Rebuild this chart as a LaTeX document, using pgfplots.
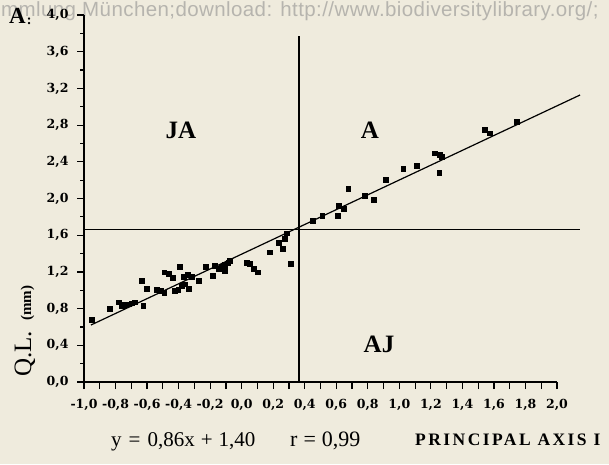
\documentclass[border=0pt]{standalone}
\usepackage{pgfplots}
\pgfplotsset{compat=1.18}
\usepackage{pgfplotstable}
\usepackage{fontspec}
\setmainfont{Liberation Serif}
\newfontfamily\tickfont{DejaVu Serif}
\newfontfamily\widefont[LetterSpace=14]{Liberation Serif}
\newfontfamily\wmfont[LetterSpace=2]{Liberation Sans}
\definecolor{bgcol}{RGB}{239,235,221}
\definecolor{wmcol}{RGB}{182,180,174}

\pgfplotstableread{
x y
-0.951 0.676
-0.835 0.803
-0.782 0.869
-0.761 0.828
-0.740 0.839
-0.719 0.847
-0.697 0.858
-0.677 0.869
-0.624 0.828
-0.634 1.104
-0.603 1.014
-0.539 1.010
-0.512 0.995
-0.491 0.973
-0.491 1.196
-0.465 1.177
-0.437 1.141
-0.391 1.257
-0.423 0.995
-0.402 1.010
-0.380 1.046
-0.359 1.065
-0.338 1.021
-0.370 1.148
-0.342 1.166
-0.317 1.148
-0.271 1.104
-0.228 1.257
-0.184 1.159
-0.169 1.264
-0.148 1.239
-0.127 1.257
-0.106 1.275
-0.085 1.300
-0.074 1.319
-0.106 1.213
0.032 1.300
0.053 1.286
0.074 1.239
0.102 1.196
0.180 1.414
0.237 1.518
0.258 1.450
0.275 1.566
0.286 1.621
0.311 1.286
0.450 1.758
0.511 1.813
0.607 1.809
0.613 1.918
0.645 1.893
0.676 2.104
0.782 2.027
0.839 1.991
0.915 2.202
1.025 2.329
1.110 2.354
1.226 2.493
1.258 2.474
1.269 2.456
1.253 2.281
1.543 2.747
1.575 2.711
1.744 2.837
}\pts

\begin{document}
\begin{tikzpicture}
\fill[bgcol] (0pt,0pt) rectangle (609pt,464pt);
\useasboundingbox (0pt,0pt) rectangle (609pt,464pt);
\node[anchor=base west, inner sep=0pt, text=wmcol, font=\wmfont\fontsize{20.5}{20.5}\selectfont] at (1pt,447pt) {mmlung München;download: http://www.biodiversitylibrary.org/;};
\begin{axis}[
  at={(84pt,82pt)}, anchor=south west,
  scale only axis, width=473pt, height=367pt,
  xmin=-1, xmax=2, ymin=0, ymax=4,
  clip=false,
  axis x line*=bottom, axis y line*=left,
  axis line style={line width=1.5pt, -},
  xtick={-1,-0.9,-0.8,-0.7,-0.6,-0.5,-0.4,-0.3,-0.2,-0.1,0,0.1,0.2,0.3,0.4,0.5,0.6,0.7,0.8,0.9,1,1.1,1.2,1.3,1.4,1.5,1.6,1.7,1.8,1.9,2},
  xticklabels={{-1,0},{},{-0,8},{},{-0,6},{},{-0,4},{},{-0,2},{},{0,0},{},{0,2},{},{0,4},{},{0,6},{},{0,8},{},{1,0},{},{1,2},{},{1,4},{},{1,6},{},{1,8},{},{2,0}},
  ytick={0,0.4,0.8,1.2,1.6,2,2.4,2.8,3.2,3.6,4},
  yticklabels={{0,0},{0,4},{0,8},{1,2},{1,6},{2,0},{2,4},{2,8},{3,2},{3,6},{4,0}},
  minor ytick={0.2,0.6,1.0,1.4,1.8,2.2,2.6,3.0,3.4,3.8},
  tick align=outside,
  major tick length=7pt, minor tick length=4pt,
  tick style={black, line width=1.2pt},
  ticklabel style={font=\tickfont\bfseries\fontsize{12.5}{12.5}\selectfont},
  xticklabel style={yshift=-7pt},
  yticklabel style={xshift=-5pt},
]
\addplot[only marks, mark=square*, mark size=2.4pt, black] table[x=x,y=y] {\pts};
\addplot[black, line width=1.2pt] coordinates {(-0.956,0.621) (2.146,3.128)};
\addplot[black, line width=1.3pt] coordinates {(-1,1.66) (2.146,1.66)};
\addplot[black, line width=1.3pt] coordinates {(0.364,0) (0.364,3.77)};
\end{axis}
\node[font=\bfseries\fontsize{25}{25}\selectfont] at (181pt,334pt) {JA};
\node[font=\bfseries\fontsize{25}{25}\selectfont] at (370pt,334pt) {A};
\node[font=\bfseries\fontsize{25}{25}\selectfont] at (379pt,120pt) {AJ};
\node[font=\bfseries\fontsize{23}{23}\selectfont, anchor=base west, inner sep=0pt] at (9pt,440pt) {A\kern1pt\raisebox{-1pt}{\fontsize{14}{14}\selectfont:}};
\node[rotate=90, anchor=base west, inner sep=0pt] at (31pt,87pt) {{\fontsize{25}{25}\selectfont Q.L.}\hspace{10pt}{\bfseries\fontsize{15}{15}\selectfont (mm)}};
\node[anchor=base west, inner sep=0pt, font=\fontsize{21}{21}\selectfont] at (111pt,18pt) {y\hspace{7pt}=\hspace{7pt}0,86x\hspace{6pt}+\hspace{6pt}1,40};
\node[anchor=base west, inner sep=0pt, font=\fontsize{22}{22}\selectfont] at (290pt,18pt) {r\hspace{6pt}=\hspace{6pt}0,99};
\node[anchor=base west, inner sep=0pt, font=\widefont\bfseries\fontsize{17.5}{17.5}\selectfont] at (415pt,19pt) {PRINCIPAL AXIS I};
\end{tikzpicture}
\end{document}
